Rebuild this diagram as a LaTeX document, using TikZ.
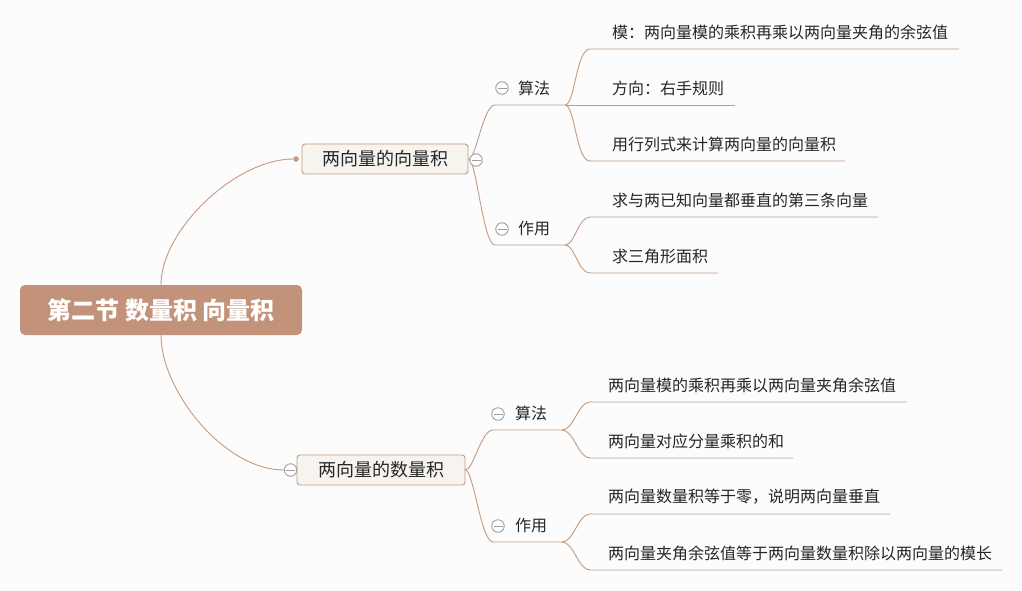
\documentclass[tikz,border=0pt]{standalone}
\usepackage{fontspec}
\setmainfont{Noto Sans CJK SC}
\usepackage{tikz}
\usetikzlibrary{positioning,calc}
\definecolor{bgc}{HTML}{FCFCFC}
\definecolor{rootc}{HTML}{C2937A}
\definecolor{linec}{HTML}{C59A80}
\definecolor{boxc}{HTML}{F7F3EE}
\definecolor{txtc}{HTML}{262626}
\definecolor{foldc}{HTML}{9E9E9E}

\begin{document}
\begin{tikzpicture}[x=1pt, y=-1pt,
  link/.style={draw=linec, line width=0.9pt},
  rootbox/.style={fill=rootc, rounded corners=5pt, minimum width=282pt,
    minimum height=50pt, text=white, font=\fontsize{24}{24}\selectfont\bfseries},
  topicbox/.style={fill=boxc, draw=linec, line width=0.9pt, rounded corners=3pt,
    minimum height=30pt, text=txtc, font=\fontsize{18}{18}\selectfont},
  leaf/.style={anchor=west, inner sep=0pt, text=txtc, font=\fontsize{16}{16}\selectfont},
  fold/.style={circle, draw=foldc, fill=white, line width=0.9pt, minimum size=12.5pt,
    inner sep=0pt, path picture={\draw[foldc, line width=0.9pt]
      ([xshift=-4.5pt]path picture bounding box.center) --
      ([xshift=4.5pt]path picture bounding box.center);}},
  tip/.style={circle, fill=linec, inner sep=0pt, minimum size=5.5pt}]
\useasboundingbox[fill=bgc] (0,0) rectangle (1022,591);

\node[rootbox] (root) at (161,310) {第二节 数量积 向量积};
\node[topicbox, minimum width=166pt] (vec) at (385,159) {两向量的向量积};
\node[topicbox, minimum width=168pt] (dot) at (381,470) {两向量的数量积};
\node[tip] (vtip) at (296,159) {};
\node[fold] (dfold) at (290.5,470) {};

% group labels
\node[leaf] (vA) at (518,88) {算法};
\node[leaf] (vU) at (518,228) {作用};
\node[leaf] (dA) at (515,413) {算法};
\node[leaf] (dU) at (515,525) {作用};
\coordinate (vAs) at (495,105); \coordinate (vAe) at (565,105);
\coordinate (vUs) at (495,245); \coordinate (vUe) at (565,245);
\coordinate (dAs) at (493,430); \coordinate (dAe) at (562,430);
\coordinate (dUs) at (493,542); \coordinate (dUe) at (562,542);

% leaves
\node[leaf] (v1) at (612,32) {模：两向量模的乘积再乘以两向量夹角的余弦值};
\node[leaf] (v2) at (612,88) {方向：右手规则};
\node[leaf] (v3) at (612,144) {用行列式来计算两向量的向量积};
\node[leaf] (v4) at (612,200) {求与两已知向量都垂直的第三条向量};
\node[leaf] (v5) at (612,256) {求三角形面积};
\node[leaf] (d1) at (608,385) {两向量模的乘积再乘以两向量夹角余弦值};
\node[leaf] (d2) at (608,441) {两向量对应分量乘积的和};
\node[leaf] (d3) at (608,497) {两向量数量积等于零，说明两向量垂直};
\node[leaf] (d4) at (608,553) {两向量夹角余弦值等于两向量数量积除以两向量的模长};
\coordinate (v1s) at (590,49);  \coordinate (v1e) at (959,49);
\coordinate (v2e) at (735,105);
\coordinate (v3s) at (590,161); \coordinate (v3e) at (845,161);
\coordinate (v4s) at (590,217); \coordinate (v4e) at (878,217);
\coordinate (v5s) at (590,273); \coordinate (v5e) at (718,273);
\coordinate (d1s) at (590,402); \coordinate (d1e) at (907,402);
\coordinate (d2s) at (590,458); \coordinate (d2e) at (793,458);
\coordinate (d3s) at (590,514); \coordinate (d3e) at (890,514);
\coordinate (d4s) at (590,570); \coordinate (d4e) at (1002,570);

\draw[link] (root.north) .. controls +(0,-55) and +(-60,0) .. (vtip);
\draw[link] (root.south) .. controls +(0,55) and +(-60,0) .. (dfold.west);

\draw[link] (vec.east) .. controls +(8,0) and +(-12,0) .. (vAs) -- (vAe);
\draw[link] (vec.east) .. controls +(8,0) and +(-12,0) .. (vUs) -- (vUe);
\draw[link] (dot.east) .. controls +(8,0) and +(-12,0) .. (dAs) -- (dAe);
\draw[link] (dot.east) .. controls +(8,0) and +(-12,0) .. (dUs) -- (dUe);

\draw[link] (vAe) .. controls +(10,0) and +(-14,0) .. (v1s) -- (v1e);
\draw[link] (vAe) -- (v2e);
\draw[link] (vAe) .. controls +(10,0) and +(-14,0) .. (v3s) -- (v3e);
\draw[link] (vUe) .. controls +(10,0) and +(-12,0) .. (v4s) -- (v4e);
\draw[link] (vUe) .. controls +(10,0) and +(-12,0) .. (v5s) -- (v5e);
\draw[link] (dAe) .. controls +(12,0) and +(-12,0) .. (d1s) -- (d1e);
\draw[link] (dAe) .. controls +(12,0) and +(-12,0) .. (d2s) -- (d2e);
\draw[link] (dUe) .. controls +(12,0) and +(-12,0) .. (d3s) -- (d3e);
\draw[link] (dUe) .. controls +(12,0) and +(-12,0) .. (d4s) -- (d4e);

\node[fold] (vfold) at (476,160) {};
\node[fold] (vAf) at (502,88) {};
\node[fold] (vUf) at (502,229) {};
\node[fold] (dAf) at (498,414) {};
\node[fold] (dUf) at (498,526) {};
\end{tikzpicture}
\end{document}
